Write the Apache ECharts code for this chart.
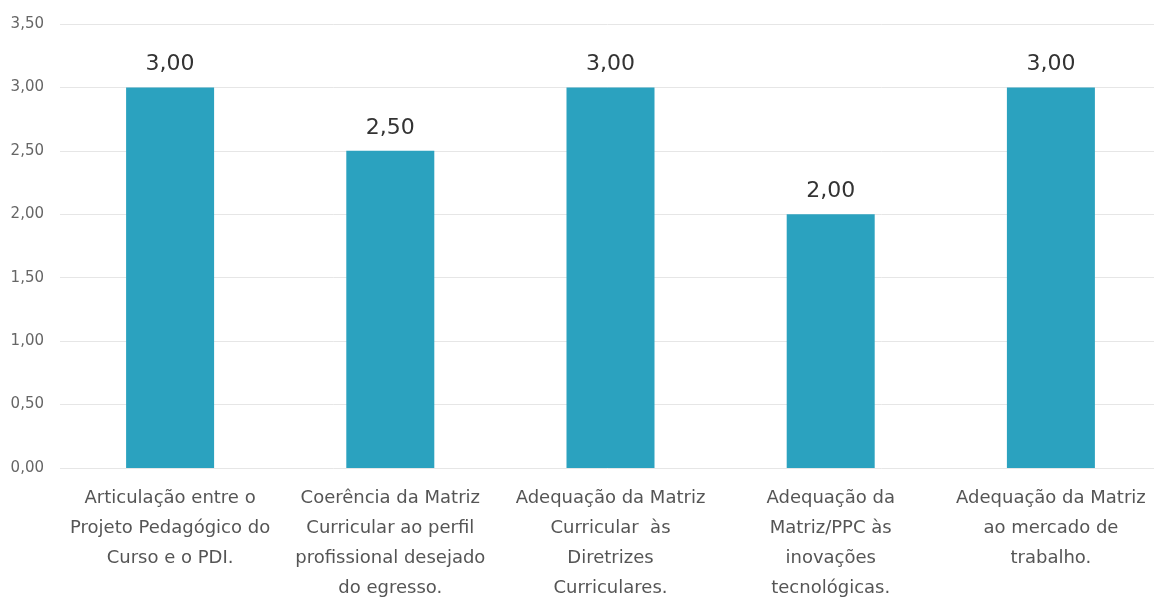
<!DOCTYPE html>
<html>
<head>
<meta charset="utf-8">
<script src="https://cdn.jsdelivr.net/npm/echarts@6/dist/echarts.min.js"></script>
<style>
  html, body { margin: 0; padding: 0; background: #fff; }
  #chart { width: 1154px; height: 598px; }
</style>
</head>
<body>
<div id="chart"></div>
<script>
// categories (line breaks as in the original labels)
const categories = [
    'Articulação entre o\nProjeto Pedagógico do\nCurso e o PDI.',
    'Coerência da Matriz\nCurricular ao perfil\nprofissional desejado\ndo egresso.',
    'Adequação da Matriz\nCurricular  às\nDiretrizes\nCurriculares.',
    'Adequação da\nMatriz/PPC às\ninovações\ntecnológicas.',
    'Adequação da Matriz\nao mercado de\ntrabalho.'
];
const values = [3.0, 2.5, 3.0, 2.0, 3.0];

const fmt = v => Number(v).toFixed(2).replace('.', ',');
const FONT = "'DejaVu Sans', Verdana, sans-serif";

var myChart = echarts.init(document.getElementById('chart'));
myChart.setOption({
    animation: false,
    textStyle: { fontFamily: FONT },
    grid: {
        left: 60,
        top: 24,
        width: 1101,
        height: 444,
        containLabel: false,
        outerBoundsMode: 'none'
    },
    xAxis: {
        type: 'category',
        data: categories,
        axisLine: { show: false },
        axisTick: { show: false },
        axisLabel: {
            interval: 0,
            color: '#555',
            fontFamily: FONT,
            fontSize: 18,
            lineHeight: 30,
            margin: 15
        }
    },
    yAxis: {
        type: 'value',
        min: 0,
        max: 3.5,
        interval: 0.5,
        axisLine: { show: false },
        axisTick: { show: false },
        splitLine: { lineStyle: { color: '#e6e6e6' } },
        axisLabel: {
            color: '#666',
            fontFamily: FONT,
            fontSize: 15,
            margin: 16,
            formatter: fmt
        }
    },
    series: [{
        type: 'bar',
        data: values,
        barWidth: 88,
        itemStyle: { color: '#2ba2bf' },
        label: {
            show: true,
            position: 'top',
            distance: 12,
            color: '#333',
            fontFamily: FONT,
            fontSize: 22,
            formatter: p => fmt(p.value)
        }
    }]
});
</script>
</body>
</html>
